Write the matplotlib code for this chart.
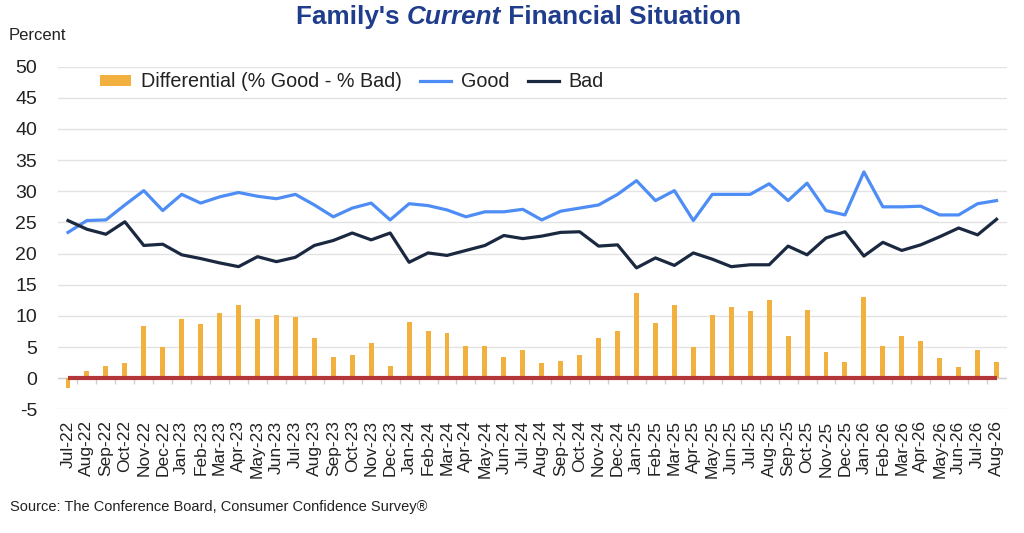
import matplotlib
matplotlib.use("Agg")
import matplotlib.pyplot as plt
import numpy as np

plt.rcParams['font.family'] = ['Liberation Sans', 'DejaVu Sans']
plt.rcParams['axes.unicode_minus'] = False

months = ['Jul-22', 'Aug-22', 'Sep-22', 'Oct-22', 'Nov-22', 'Dec-22',
          'Jan-23', 'Feb-23', 'Mar-23', 'Apr-23', 'May-23', 'Jun-23',
          'Jul-23', 'Aug-23', 'Sep-23', 'Oct-23', 'Nov-23', 'Dec-23',
          'Jan-24', 'Feb-24', 'Mar-24', 'Apr-24', 'May-24', 'Jun-24',
          'Jul-24', 'Aug-24', 'Sep-24', 'Oct-24', 'Nov-24', 'Dec-24',
          'Jan-25', 'Feb-25', 'Mar-25', 'Apr-25', 'May-25', 'Jun-25',
          'Jul-25', 'Aug-25', 'Sep-25', 'Oct-25', 'Nov-25', 'Dec-25',
          'Jan-26', 'Feb-26', 'Mar-26', 'Apr-26', 'May-26', 'Jun-26',
          'Jul-26', 'Aug-26']

good = [23.4, 25.3, 25.4, 27.8, 30.1, 26.9,
        29.5, 28.1, 29.1, 29.8, 29.2, 28.8,
        29.5, 27.8, 25.9, 27.3, 28.1, 25.4,
        28.0, 27.7, 27.0, 25.9, 26.7, 26.7,
        27.1, 25.4, 26.8, 27.3, 27.8, 29.5,
        31.7, 28.5, 30.1, 25.3, 29.5, 29.5,
        29.5, 31.2, 28.5, 31.3, 26.9, 26.2,
        33.1, 27.5, 27.5, 27.6, 26.2, 26.2,
        28.0, 28.5]

bad = [25.3, 23.9, 23.1, 25.1, 21.3, 21.5,
       19.8, 19.2, 18.5, 17.9, 19.5, 18.7,
       19.4, 21.3, 22.1, 23.3, 22.2, 23.3,
       18.6, 20.1, 19.7, 20.5, 21.3, 22.9,
       22.4, 22.8, 23.4, 23.5, 21.2, 21.4,
       17.7, 19.3, 18.1, 20.1, 19.1, 17.9,
       18.2, 18.2, 21.2, 19.8, 22.5, 23.5,
       19.6, 21.8, 20.5, 21.4, 22.7, 24.1,
       23.0, 25.5]

diff = [-1.6, 1.1, 2.0, 2.4, 8.4, 5.0,
        9.5, 8.7, 10.5, 11.8, 9.5, 10.1,
        9.8, 6.5, 3.4, 3.7, 5.6, 1.9,
        9.0, 7.5, 7.3, 5.1, 5.1, 3.4,
        4.5, 2.4, 2.8, 3.7, 6.5, 7.6,
        13.6, 8.9, 11.8, 5.0, 10.1, 11.4,
        10.8, 12.6, 6.8, 11.0, 4.2, 2.6,
        13.0, 5.2, 6.8, 5.9, 3.2, 1.8,
        4.6, 2.6]

x = np.arange(len(months))

fig = plt.figure(figsize=(10.24, 5.33), dpi=100)
ax = fig.add_axes([0.0566, 0.232, 0.9264, 0.643])

bars = ax.bar(x, diff, width=0.26, color='#F2B13E', label='Differential (% Good - % Bad)', zorder=3)
lg, = ax.plot(x, good, color='#4D8DF5', linewidth=2.3, label='Good', zorder=4)
lb, = ax.plot(x, bad, color='#1A2840', linewidth=2.3, label='Bad', zorder=4)

# zero line + small ticks between months
ax.axhline(0, color='#D0D0D0', linewidth=1, zorder=1)
ax.vlines(x[1:] - 0.5, -1.0, 0, color='#D0D0D0', linewidth=1, zorder=1)
ax.plot([x[0], x[-1]], [0, 0], color='#B3363A', linewidth=3, zorder=5,
        solid_capstyle='butt')

ax.set_ylim(-5, 50)
ax.set_yticks(np.arange(-5, 51, 5))
ax.set_xlim(-0.53, len(months) - 1 + 0.53)
ax.set_xticks(x)
ax.set_xticklabels(months, rotation=90, fontsize=12.5, color='#222222')
ax.tick_params(axis='x', length=0, pad=8)
ax.tick_params(axis='y', length=0, pad=15, labelsize=14, labelcolor='#222222')
ax.grid(axis='y', color='#E3E3E3', linewidth=1, zorder=0)
ax.set_axisbelow(True)
for s in ax.spines.values():
    s.set_visible(False)

leg = ax.legend([bars, lg, lb], ['Differential (% Good - % Bad)', 'Good', 'Bad'],
                loc='upper left', bbox_to_anchor=(0.026, 1.035), ncol=3, frameon=False,
                fontsize=14.2, handlelength=1.55, handleheight=0.45, handletextpad=0.5,
                columnspacing=0.95)
for t in leg.get_texts():
    t.set_color('#222222')

fig.text(0.008, 0.933, 'Percent', fontsize=12, color='#222222', va='center')
fig.text(0.01, 0.048, 'Source: The Conference Board, Consumer Confidence Survey®',
         fontsize=10.5, color='#222222', va='center')

title_color = '#1F3D8C'
ty = 0.968
t1 = fig.text(0.289, ty, "Family's ", fontsize=18.8, fontweight='bold', color=title_color, va='center')
fig.canvas.draw()
x1 = t1.get_window_extent().x1 / fig.bbox.width
t2 = fig.text(x1, ty, "Current", fontsize=18.8, fontweight='bold', style='italic',
              color=title_color, va='center')
fig.canvas.draw()
x2 = t2.get_window_extent().x1 / fig.bbox.width
fig.text(x2, ty, " Financial Situation", fontsize=18.8, fontweight='bold',
         color=title_color, va='center')

fig.savefig('out.png', dpi=100)
